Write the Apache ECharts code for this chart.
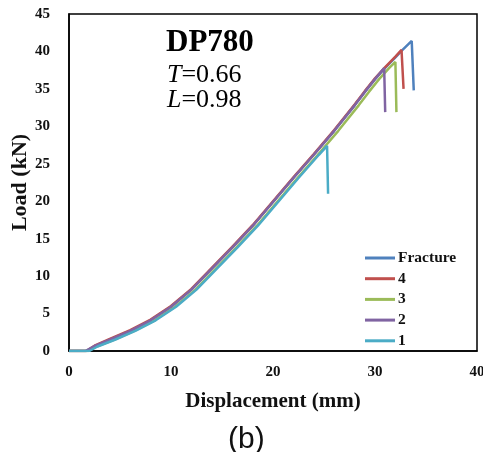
<!DOCTYPE html>
<html>
<head>
<meta charset="utf-8">
<script src="https://cdn.jsdelivr.net/npm/echarts@6/dist/echarts.min.js"></script>
<style>
html,body{margin:0;padding:0;background:#fff;}
#chart{width:483px;height:452px;}
</style>
</head>
<body>
<div id="chart"></div>
<script>
const legendNames = ['Fracture', '4', '3', '2', '1'];
const seriesColors = ['#4F81BD', '#C0504D', '#9BBB59', '#8064A2', '#4BACC6'];

const fractureX = [0, 1.7, 2.5, 4, 6, 8, 10, 12, 14, 16, 18, 20, 22, 24, 26, 28, 29, 30, 31, 32, 32.7, 33.6, 33.8];
const fractureY = [0, 0, 0.6, 1.5, 2.7, 4.1, 5.9, 8.2, 11.0, 13.8, 16.7, 19.9, 23.1, 26.2, 29.4, 32.8, 34.6, 36.3, 37.8, 39.2, 40.2, 41.4, 34.8];

const s4X = [0, 1.7, 2.5, 4, 6, 8, 10, 12, 14, 16, 18, 20, 22, 24, 26, 28, 29, 30, 31, 32, 32.6, 32.8];
const s4Y = [0, 0, 0.7, 1.6, 2.8, 4.2, 6.0, 8.3, 11.1, 13.9, 16.8, 20.0, 23.2, 26.3, 29.5, 32.9, 34.7, 36.4, 37.9, 39.3, 40.2, 35.0];

const s3X = [0, 1.9, 2.7, 4.4, 6.4, 8.4, 10.4, 12.4, 14.4, 16.4, 18.4, 20.4, 22.4, 24.4, 26.4, 28.4, 29.4, 30.4, 31.4, 32.0, 32.1];
const s3Y = [0, 0, 0.6, 1.5, 2.7, 4.1, 5.9, 8.2, 11.0, 13.8, 16.7, 19.9, 23.1, 26.2, 29.4, 32.8, 34.6, 36.3, 37.8, 38.6, 31.9];

const s2X = [0, 1.6, 2.4, 4, 6, 8, 10, 12, 14, 16, 18, 20, 22, 24, 26, 28, 29, 30, 30.9, 31.0];
const s2Y = [0, 0, 0.6, 1.5, 2.7, 4.1, 5.9, 8.2, 11.0, 13.8, 16.7, 19.9, 23.1, 26.2, 29.4, 32.8, 34.6, 36.3, 37.8, 31.9];

const s1X = [0, 2.0, 2.8, 4.5, 6.5, 8.5, 10.5, 12.5, 14.5, 16.5, 18.5, 20.5, 22.5, 24.5, 25.3, 25.4];
const s1Y = [0, 0, 0.6, 1.5, 2.7, 4.1, 5.9, 8.2, 11.0, 13.8, 16.7, 19.9, 23.1, 26.2, 27.4, 21.0];

const xTicks = [0, 10, 20, 30, 40];
const yTicks = [0, 5, 10, 15, 20, 25, 30, 35, 40, 45];

function pairs(xs, ys) { return xs.map((x, i) => [x, ys[i]]); }
const allX = [fractureX, s4X, s3X, s2X, s1X];
const allY = [fractureY, s4Y, s3Y, s2Y, s1Y];

const serif = '"Liberation Serif", "Times New Roman", serif';

const chart = echarts.init(document.getElementById('chart'), null, {renderer: 'canvas'});
chart.setOption({
  animation: false,
  backgroundColor: '#fff',
  grid: {left: 69, right: 6, top: 14, bottom: 101, show: true, borderColor: '#000', borderWidth: 1.5,
         containLabel: false, outerBoundsMode: 'none'},
  xAxis: {
    type: 'value', min: xTicks[0], max: xTicks[xTicks.length - 1], interval: 10,
    axisLine: {show: true, lineStyle: {color: '#000', width: 1.5}},
    axisTick: {show: false}, splitLine: {show: false},
    axisLabel: {fontFamily: serif, fontSize: 15, fontWeight: 'bold', color: '#111', margin: 14, hideOverlap: false},
    name: 'Displacement (mm)', nameLocation: 'middle', nameGap: 40, nameMoveOverlap: false,
    nameTextStyle: {fontFamily: serif, fontSize: 21, fontWeight: 'bold', color: '#111'}
  },
  yAxis: {
    type: 'value', min: yTicks[0], max: yTicks[yTicks.length - 1], interval: 5,
    axisLine: {show: true, lineStyle: {color: '#000', width: 1.5}},
    axisTick: {show: false}, splitLine: {show: false},
    axisLabel: {fontFamily: serif, fontSize: 15, fontWeight: 'bold', color: '#111', margin: 19},
    name: 'Load (kN)', nameLocation: 'middle', nameGap: 38, nameRotate: 90, nameMoveOverlap: false,
    nameTextStyle: {fontFamily: serif, fontSize: 22, fontWeight: 'bold', color: '#111'}
  },
  legend: {
    data: legendNames, orient: 'vertical', left: 360, top: 245,
    icon: 'rect', itemWidth: 30, itemHeight: 3, itemGap: 4.7,
    textStyle: {fontFamily: serif, fontSize: 15.5, fontWeight: 'bold', color: '#111', padding: [0, 0, 0, -2]}
  },
  graphic: [
    {type: 'text', left: 166, top: 27, style: {text: 'DP780', font: 'bold 31px ' + serif, fill: '#000'}},
    {type: 'text', left: 167, top: 62, style: {text: '{i|T}=0.66', fontSize: 26, fontFamily: serif, fill: '#000',
      rich: {i: {fontStyle: 'italic', fontSize: 26, fontFamily: serif}}}},
    {type: 'text', left: 167, top: 87, style: {text: '{i|L}=0.98', fontSize: 26, fontFamily: serif, fill: '#000',
      rich: {i: {fontStyle: 'italic', fontSize: 26, fontFamily: serif}}}},
    {type: 'text', left: 228, top: 425, style: {text: '(b)', font: '30px "Liberation Sans", Arial, sans-serif', fill: '#111'}}
  ],
  series: legendNames.map((name, i) => ({
    name: name, type: 'line', symbol: 'none', smooth: false,
    data: pairs(allX[i], allY[i]),
    lineStyle: {color: seriesColors[i], width: 2.5},
    itemStyle: {color: seriesColors[i]},
    z: 2 + i
  }))
});
</script>
</body>
</html>
